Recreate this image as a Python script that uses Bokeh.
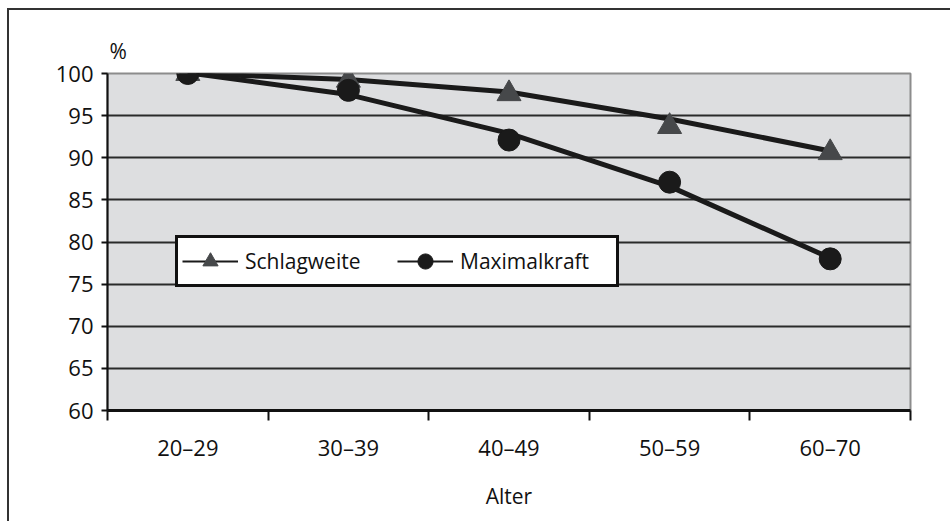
from bokeh.plotting import figure
from bokeh.models import Range1d, FixedTicker, Legend, LegendItem
from bokeh.embed import file_html
from bokeh.resources import INLINE

# ---- data ----
categories = ["20\u201329", "30\u201339", "40\u201349", "50\u201359", "60\u201370"]
schlagweite = [100, 99.2, 97.6, 93.7, 90.6]
maximalkraft = [100, 98, 92.1, 87.1, 78]
# trend lines as drawn in the chart (read at each category)
schlagweite_trend = [100, 99.3, 97.8, 94.6, 90.8]
maximalkraft_trend = [100.1, 97.5, 92.9, 86.6, 78.1]
y_ticks = [60, 65, 70, 75, 80, 85, 90, 95, 100]

FONT = "Open Sans"
xs = [i + 0.5 for i in range(len(categories))]

p = figure(width=943, height=513, output_backend="svg", toolbar_location=None,
           x_range=Range1d(0, len(categories)), y_range=Range1d(y_ticks[0], y_ticks[-1]),
           min_border_left=98, min_border_top=63, min_border_right=42, min_border_bottom=113)
p.styles = {"margin-left": "7px", "margin-top": "8px",
            "border-left": "2px solid #333", "border-top": "2px solid #333"}

p.title.text = "%"
p.title.text_font = FONT
p.title.text_font_size = "21px"
p.title.text_font_style = "normal"
p.title.text_color = "#111"
p.title.align = "left"
p.title.offset = 2
p.title.standoff = 18

p.background_fill_color = "#dddee0"
p.border_fill_color = "white"
p.outline_line_color = "#8c8c8c"
p.outline_line_width = 2

# grid
p.xgrid.visible = False
p.ygrid.ticker = FixedTicker(ticks=y_ticks[1:-1])
p.ygrid.grid_line_color = "#2a2a2a"
p.ygrid.grid_line_width = 2

# y axis
p.yaxis.ticker = FixedTicker(ticks=y_ticks)
p.yaxis.axis_line_color = "#111"
p.yaxis.axis_line_width = 2
p.yaxis.major_tick_line_color = "#111"
p.yaxis.major_tick_line_width = 2
p.yaxis.major_tick_out = 6
p.yaxis.major_tick_in = 0
p.yaxis.minor_tick_line_color = None
p.yaxis.major_label_text_font = FONT
p.yaxis.major_label_text_font_size = "22px"
p.yaxis.major_label_text_color = "#111"
p.yaxis.major_label_standoff = 8

# x axis: labels at centers, ticks at boundaries
p.xaxis.ticker = FixedTicker(ticks=xs, minor_ticks=list(range(len(categories) + 1)))
p.xaxis.major_label_overrides = {x: c for x, c in zip(xs, categories)}
p.xaxis.axis_line_color = "#111"
p.xaxis.axis_line_width = 3
p.xaxis.major_tick_line_color = None
p.xaxis.major_tick_out = 0
p.xaxis.major_tick_in = 0
p.xaxis.minor_tick_line_color = "#111"
p.xaxis.minor_tick_line_width = 2
p.xaxis.minor_tick_out = 10
p.xaxis.minor_tick_in = 0
p.xaxis.major_label_text_font = FONT
p.xaxis.major_label_text_font_size = "22px"
p.xaxis.major_label_text_color = "#111"
p.xaxis.major_label_standoff = 11
p.xaxis.axis_label = "Alter"
p.xaxis.axis_label_text_font = FONT
p.xaxis.axis_label_text_font_size = "21px"
p.xaxis.axis_label_text_font_style = "normal"
p.xaxis.axis_label_text_color = "#111"
p.xaxis.axis_label_standoff = 17

# thin lines used as legend samples (hidden underneath the thick trend lines)
lg1 = p.line(xs, schlagweite_trend, line_color="#1a1a1a", line_width=2)
lg2 = p.line(xs, maximalkraft_trend, line_color="#1a1a1a", line_width=2)

# series
p.line(xs, schlagweite_trend, line_color="#1a1a1a", line_width=5)
p.line(xs, maximalkraft_trend, line_color="#1a1a1a", line_width=5)
s1 = p.scatter(xs, schlagweite, marker="triangle", size=24, fill_color="#46484a", line_color="#46484a")
s2 = p.scatter(xs, maximalkraft, marker="circle", size=22, fill_color="#1a1a1a", line_color="#1a1a1a")

legend = Legend(items=[LegendItem(label="Schlagweite", renderers=[lg1, s1]),
                       LegendItem(label="Maximalkraft", renderers=[lg2, s2])],
                location=(68, 123), orientation="horizontal",
                glyph_width=56, glyph_height=38, label_standoff=7, label_width=152,
                spacing=0, padding=4, margin=0,
                label_text_font=FONT, label_text_font_size="21px", label_text_color="#111",
                border_line_color="#111", border_line_width=3, border_line_alpha=1,
                background_fill_color="white", background_fill_alpha=1)
p.add_layout(legend, "center")

open("out.html", "w").write(file_html(p, INLINE))
